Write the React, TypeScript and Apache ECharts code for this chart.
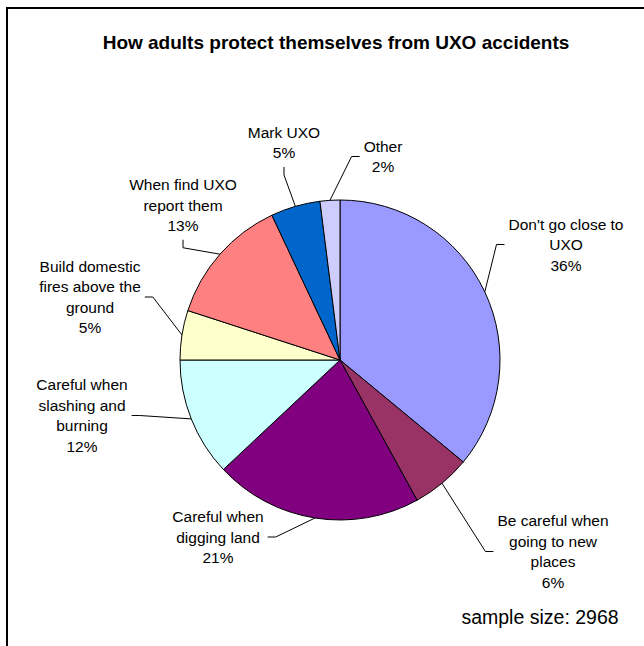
import React, { useEffect, useRef } from "react";
import * as echarts from "echarts";

// ---- data ----
const TITLE = "How adults protect themselves from UXO accidents";
const NOTE = "sample size: 2968";
const CATEGORIES = [
  "Don't go close to\nUXO",
  "Be careful when\ngoing to new\nplaces",
  "Careful when\ndigging land",
  "Careful when\nslashing and\nburning",
  "Build domestic\nfires above the\nground",
  "When find UXO\nreport them",
  "Mark UXO",
  "Other",
];
const VALUES = [36, 6, 21, 12, 5, 13, 5, 2];
const COLORS = [
  "#9999FF",
  "#993366",
  "#800080",
  "#CCFFFF",
  "#FFFFCC",
  "#FF8080",
  "#0066CC",
  "#CCCCFF",
];

// ---- layout (not data) ----
const CX = 340;
const CY = 360;
const R = 160;
// label block centres, in pixels
const LABEL_CENTERS: [number, number][] = [
  [566, 244.5],
  [553, 551.5],
  [218, 537],
  [82, 415.5],
  [90, 297],
  [183, 205],
  [284, 142.5],
  [383, 156.5],
];
const GAP = 4;
const STUB = 8;
const FONT = "'Liberation Sans', Arial, Helvetica, sans-serif";

export default function App() {
  const ref = useRef<HTMLDivElement>(null);
  useEffect(() => {
    document.body.style.margin = "0";
    if (!ref.current) return;
    const chart = echarts.init(ref.current, undefined, { renderer: "svg" });
    const total = VALUES.reduce((a, b) => a + b, 0);
    const cum: number[] = [];
    VALUES.reduce((acc, v) => {
      cum.push(acc);
      return acc + v;
    }, 0);

    const labelLayout = (params: any) => {
      const i = params.dataIndex;
      const [lx, ly] = LABEL_CENTERS[i];
      const w = params.labelRect.width;
      const h = params.labelRect.height;
      const f = (cum[i] + VALUES[i] / 2) / total;
      const th = f * Math.PI * 2;
      const sx = CX + R * Math.sin(th);
      const sy = CY - R * Math.cos(th);
      const dx = lx - sx;
      const dy = ly - sy;
      let pts: number[][];
      if (Math.abs(dx) > Math.abs(dy)) {
        const side = dx > 0 ? -1 : 1;
        const ex = lx + side * (w / 2 + GAP);
        const bx = ex + side * STUB;
        pts = [
          [sx, sy],
          [bx, ly],
          [ex, ly],
        ];
      } else {
        const side = dy > 0 ? -1 : 1;
        const ey = ly + side * (h / 2 + GAP);
        const by = ey + side * STUB;
        pts = [
          [sx, sy],
          [lx, by],
          [lx, ey],
        ];
      }
      return {
        x: lx,
        y: ly,
        align: "center",
        verticalAlign: "middle",
        labelLinePoints: pts,
      };
    };

    chart.setOption({
      animation: false,
      backgroundColor: "#ffffff",
      title: {
        text: TITLE,
        left: 331,
        top: 28,
        textAlign: "center",
        textStyle: {
          fontFamily: FONT,
          fontSize: 19,
          fontWeight: "bold",
          color: "#000",
        },
      },
      graphic: [
        {
          type: "rect",
          shape: { x: 7, y: 8, width: 660, height: 660 },
          style: { fill: "none", stroke: "#000", lineWidth: 2 },
          silent: true,
          z: 100,
        },
        {
          type: "text",
          x: 540,
          y: 617,
          style: {
            text: NOTE,
            font: `19.5px ${FONT}`,
            fill: "#000",
            textAlign: "center",
            textVerticalAlign: "middle",
          },
        },
      ],
      series: [
        {
          type: "pie",
          center: [CX, CY],
          radius: R,
          startAngle: 90,
          clockwise: true,
          avoidLabelOverlap: false,
          itemStyle: { borderColor: "#000", borderWidth: 1 },
          emphasis: { disabled: true },
          label: {
            show: true,
            position: "outside",
            formatter: "{b}\n{c}%",
            fontFamily: FONT,
            fontSize: 15.5,
            lineHeight: 20.5,
            color: "#000",
            align: "center",
          },
          labelLine: {
            show: true,
            smooth: false,
            lineStyle: { color: "#000", width: 1 },
          },
          labelLayout,
          data: CATEGORIES.map((name, i) => ({
            name,
            value: VALUES[i],
            itemStyle: { color: COLORS[i] },
          })),
        },
      ],
    });
    return () => chart.dispose();
  }, []);
  return <div ref={ref} style={{ width: 644, height: 646 }} />;
}
